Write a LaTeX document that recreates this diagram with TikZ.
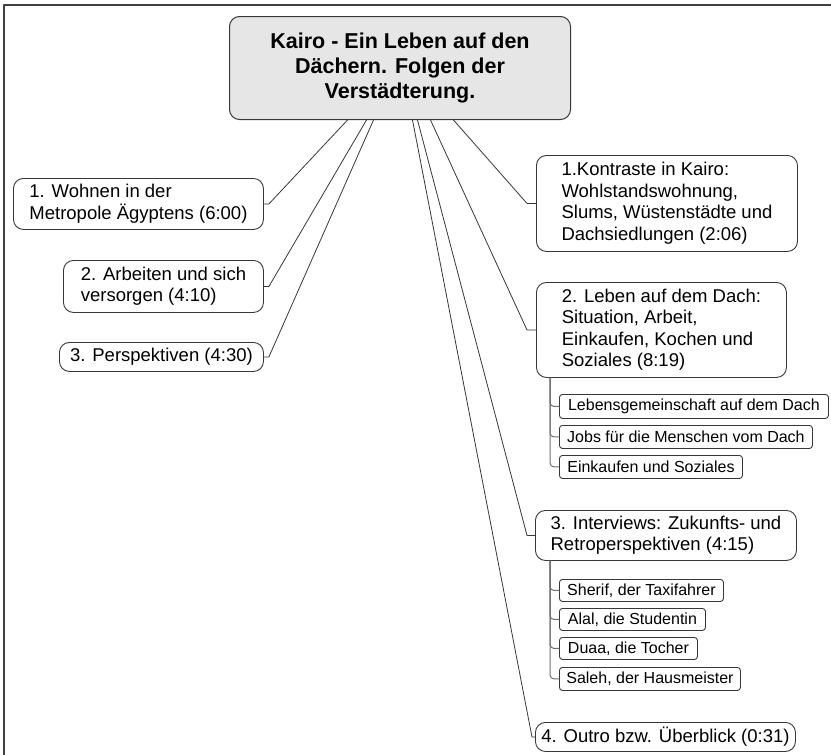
\documentclass[tikz,border=0pt]{standalone}
\usepackage{fontspec}
\setmainfont{Liberation Sans}
\usepackage{tikz}
\usetikzlibrary{positioning}
\definecolor{rootgray}{RGB}{230, 230, 230}
\definecolor{linegray}{RGB}{55, 55, 55}
\definecolor{subgray}{RGB}{110, 110, 110}

\begin{document}
\begin{tikzpicture}[x=1pt, y=-1pt, line cap=round, line join=round,
	rootbox/.style={draw=linegray, line width=1pt, fill=rootgray, rounded corners=10pt, anchor=north west, align=center, inner sep=0pt, font=\fontsize{21.5}{25}\selectfont\bfseries},
	topicbox/.style={draw=linegray, line width=0.9pt, rounded corners=10pt, anchor=north west, align=left, inner sep=0pt, font=\fontsize{18.5}{21.5}\selectfont},
	subbox/.style={draw=linegray, line width=0.9pt, rounded corners=3pt, anchor=north west, align=left, inner sep=0pt, font=\fontsize{16}{18}\selectfont},
	link/.style={draw=linegray, line width=0.8pt},
	sublink/.style={draw=subgray, line width=1pt, rounded corners=4pt}]
	\useasboundingbox (0,0) rectangle (831,755);
	% frame
	\draw[line width=2pt, draw=black!75] (4,755) -- (4,5) -- (831,5);
	
	% main topic
	\node[rootbox, minimum width=341pt, minimum height=103pt] (root) at (229,16) {Kairo - Ein Leben auf den\\Dächern. Folgen der\\Verstädterung.};
	
	% left branches
	\node[topicbox, minimum width=250pt, minimum height=51pt] (l1) at (13,178) {1. Wohnen in der\\Metropole Ägyptens (6:00)};
	\node[topicbox, minimum width=200pt, minimum height=52pt] (l2) at (63,260) {2. Arbeiten und sich\\versorgen (4:10)};
	\node[topicbox, minimum width=204pt, minimum height=29pt] (l3) at (59,342) {3. Perspektiven (4:30)};
	
	% right branches
	\node[topicbox, minimum width=261pt, minimum height=96pt] (r1) at (536,155) {1.Kontraste in Kairo:\\Wohlstandswohnung,\\Slums, Wüstenstädte und\\Dachsiedlungen (2:06)};
	\node[topicbox, minimum width=250pt, minimum height=95pt] (r2) at (536,282) {2. Leben auf dem Dach:\\Situation, Arbeit,\\Einkaufen, Kochen und\\Soziales (8:19)};
	\node[topicbox, minimum width=261pt, minimum height=50pt] (r3) at (535,510) {3. Interviews: Zukunfts- und\\Retroperspektiven (4:15)};
	\node[topicbox, minimum width=260pt, minimum height=29pt] (r4) at (535,722) {4. Outro bzw. Überblick (0:31)};
	
	% sub items of 2. and 3.
	\node[subbox, minimum width=269pt, minimum height=24pt] (c1) at (559,394) {Lebensgemeinschaft auf dem Dach};
	\node[subbox, minimum width=253pt, minimum height=23pt] (c2) at (559,425) {Jobs für die Menschen vom Dach};
	\node[subbox, minimum width=183pt, minimum height=23pt] (c3) at (559,455) {Einkaufen und Soziales};
	\node[subbox, minimum width=164pt, minimum height=22pt] (s1) at (559,579) {Sherif, der Taxifahrer};
	\node[subbox, minimum width=146pt, minimum height=22pt] (s2) at (559,608) {Alal, die Studentin};
	\node[subbox, minimum width=138pt, minimum height=22pt] (s3) at (559,637) {Duaa, die Tocher};
	\node[subbox, minimum width=181pt, minimum height=23pt] (s4) at (559,667) {Saleh, der Hausmeister};
	
	% links from the main topic
	\draw[link] ([xshift=-52.5pt]root.south) -- ([xshift=5pt]l1.east) -- (l1.east);
	\draw[link] ([xshift=-33.5pt]root.south) -- ([xshift=5pt]l2.east) -- (l2.east);
	\draw[link] ([xshift=-26.5pt]root.south) -- ([xshift=5pt]l3.east) -- (l3.east);
	\draw[link] ([xshift=53.5pt]root.south) -- ([xshift=-9pt]r1.west) -- (r1.west);
	\draw[link] ([xshift=30.5pt]root.south) -- ([xshift=-9pt]r2.west) -- (r2.west);
	\draw[link] ([xshift=17.5pt]root.south) -- ([xshift=-8pt]r3.west) -- (r3.west);
	\draw[link] ([xshift=12.5pt]root.south) -- ([xshift=-3pt]r4.west) -- (r4.west);
	
	% links to the sub items
	\foreach \c in {c1, c2, c3}
		\draw[sublink] ([xshift=14pt]r2.south west) |- (\c.west);
	\foreach \s in {s1, s2, s3, s4}
		\draw[sublink] ([xshift=15pt]r3.south west) |- (\s.west);
	
\end{tikzpicture}
\end{document}
